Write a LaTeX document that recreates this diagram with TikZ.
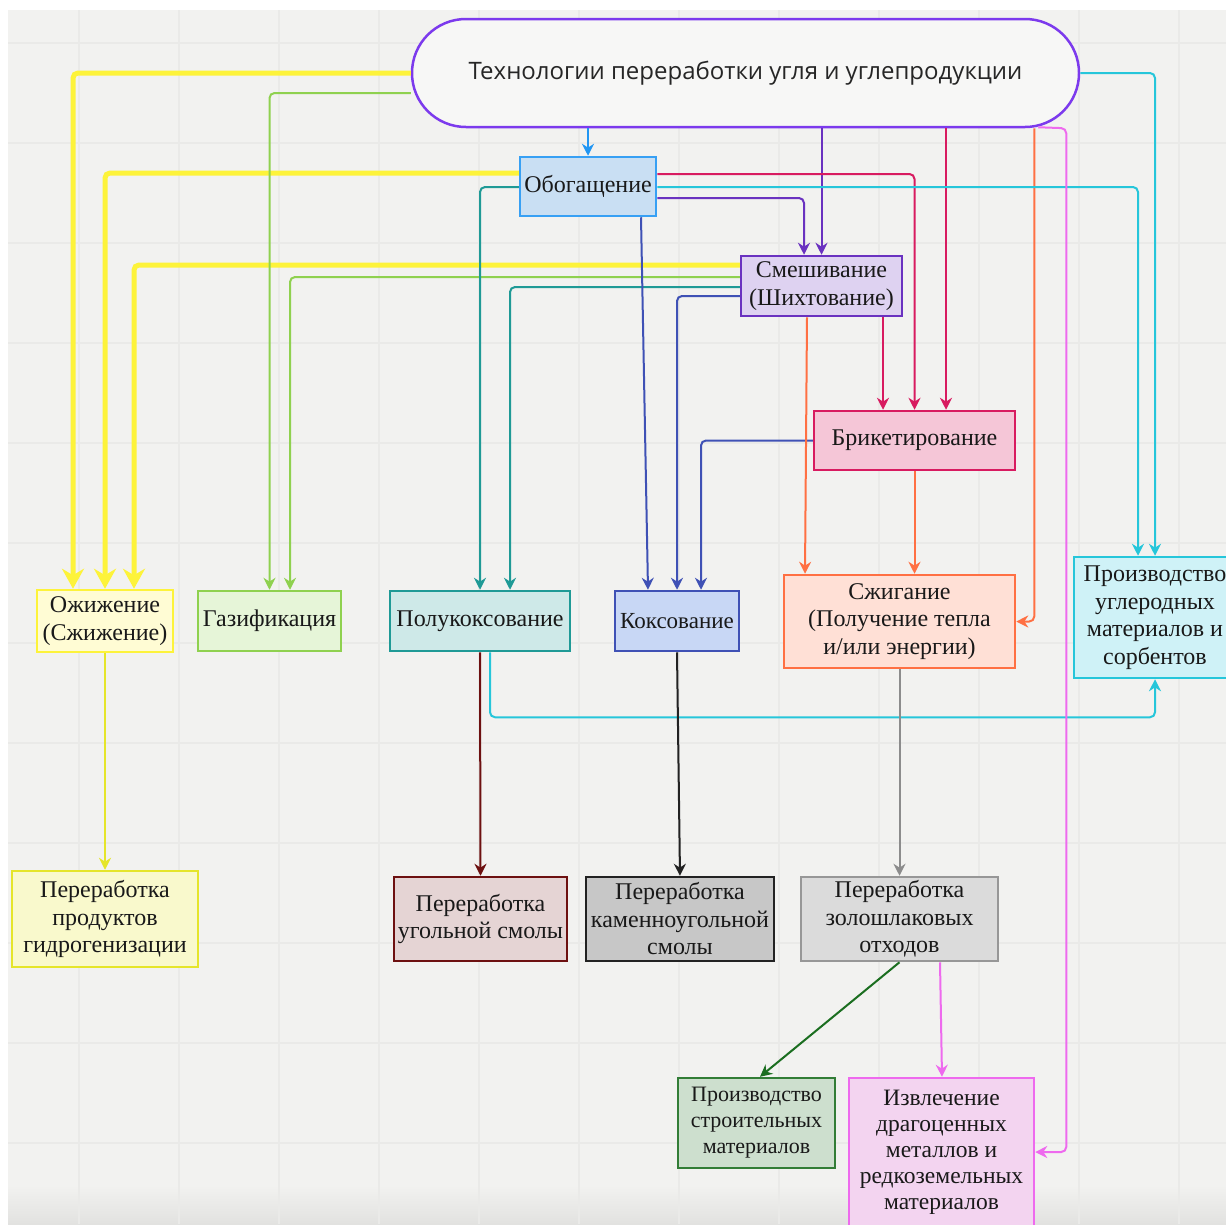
\documentclass[tikz,border=0pt]{standalone}
\usepackage{fontspec}
\setmainfont{Liberation Serif}
\newfontfamily\titlefont{Open Sans}
\usepackage{tikz}
\usetikzlibrary{positioning,arrows.meta,calc}
\definecolor{canvasbg}{HTML}{F2F2F0}
\definecolor{canvasdark}{HTML}{E2E2E0}
\definecolor{gridln}{HTML}{EAEAE8}
\definecolor{titleln}{HTML}{7C3AED}
\definecolor{fatyel}{HTML}{FDF33A}
\definecolor{lgreen}{HTML}{8FD14F}
\definecolor{tealln}{HTML}{1F9A96}
\definecolor{indigoln}{HTML}{3F51B5}
\definecolor{blueln}{HTML}{2196F3}
\definecolor{purpleln}{HTML}{6A32C0}
\definecolor{crimsonln}{HTML}{D81B60}
\definecolor{orangeln}{HTML}{FF7043}
\definecolor{cyanln}{HTML}{26C6DA}
\definecolor{violetln}{HTML}{EE6AEE}
\definecolor{greyln}{HTML}{8C8C8C}
\definecolor{darkredln}{HTML}{6D1010}
\definecolor{blackln}{HTML}{222222}
\definecolor{thinyel}{HTML}{E5E52A}
\definecolor{dgreenln}{HTML}{1B6E20}
\tikzset{
  titlebox/.style={draw=titleln, line width=2.5pt, fill=canvasbg!60!white, rounded corners=53.9pt,
                   minimum width=667pt, minimum height=108pt, text=black!85,
                   font=\titlefont\fontsize{24}{28}\selectfont},
  stage/.style={draw, line width=2.5pt, align=center, inner sep=2pt, text=black!90,
                font=\fontsize{24}{27.5}\selectfont},
  link/.style={-{Stealth[length=12pt,width=12pt]}, line width=2pt, rounded corners=5pt},
  fatlink/.style={link, line width=5pt, fatyel, -{Stealth[length=20pt,width=22pt]}}
}

\begin{document}
\begin{tikzpicture}[x=1pt,y=-1pt]
        \clip (0,0) rectangle (1226,1224);
        % canvas and grid
        \fill[white] (0,0) rectangle (1226,1224);
        \fill[canvasbg] (8,10) rectangle (1226,1224);
        \shade[top color=canvasbg, bottom color=canvasdark] (8,1185) rectangle (1226,1224);
        \begin{scope}[shift={(79,43)}]
          \draw[gridln, line width=2pt, step=100pt] (-71,-33) grid (1147,1181);
        \end{scope}

        % nodes
        \node[titlebox] (title) at (745.5,73) {Технологии переработки угля и углепродукции};
        \node[stage, fill={rgb,255:red,201;green,223;blue,243}, draw=blueln!90, minimum width=136pt, minimum height=59pt] (obog) at (588,186.5) {Обогащение};
        \node[stage, fill=purpleln!22, draw=purpleln, minimum width=161pt, minimum height=60pt] (smesh) at (821.5,286) {Смешивание\\(Шихтование)};
        \node[stage, fill=crimsonln!25, draw=crimsonln, minimum width=201pt, minimum height=59pt] (brik) at (914.5,440.5) {Брикетирование};
        \node[stage, fill=fatyel!22, draw=fatyel, minimum width=136pt, minimum height=62pt] (ozhi) at (105,621) {Ожижение\\(Сжижение)};
        \node[stage, fill=lgreen!22, draw=lgreen, minimum width=143pt, minimum height=60pt] (gaz) at (269.5,621) {Газификация};
        \node[stage, fill=tealln!22, draw=tealln, minimum width=180pt, minimum height=60pt] (polu) at (480,621) {Полукоксование};
        \node[stage, fill={rgb,255:red,200;green,215;blue,245}, draw=indigoln, minimum width=124pt, minimum height=60pt, font=\fontsize{23}{27}\selectfont] (koks) at (677,621) {Коксование};
        \node[stage, fill=orangeln!22, draw=orangeln, minimum width=231pt, minimum height=93pt] (szhig) at (899.5,621.5) {Сжигание\\(Получение тепла\\и/или энергии)};
        \node[stage, fill=cyanln!22, draw=cyanln, minimum width=162pt, minimum height=121pt] (uglerod) at (1155,617.5) {Производство\\углеродных\\материалов и\\сорбентов};
        \node[stage, fill=thinyel!24, draw=thinyel, minimum width=186pt, minimum height=96pt] (gidro) at (105,919) {Переработка\\продуктов\\гидрогенизации};
        \node[stage, fill=darkredln!18, draw=darkredln, minimum width=173pt, minimum height=84pt] (smola) at (480.5,919) {Переработка\\угольной смолы};
        \node[stage, fill=black!22, draw=blackln, minimum width=188pt, minimum height=84pt] (kamen) at (680,919) {Переработка\\каменноугольной\\смолы};
        \node[stage, fill=black!14, draw=greyln!90, minimum width=197pt, minimum height=84pt] (zolo) at (899.5,919) {Переработка\\золошлаковых\\отходов};
        \node[stage, fill=dgreenln!22, draw=dgreenln!90, minimum width=157pt, minimum height=90pt, font=\fontsize{22}{26}\selectfont] (stroi) at (756.5,1123) {Производство\\строительных\\материалов};
        \node[stage, fill={rgb,255:red,243;green,212;blue,240}, draw=violetln, minimum width=185pt, minimum height=148pt, font=\fontsize{23.5}{26}\selectfont] (izvl) at (941.5,1152) {Извлечение\\драгоценных\\металлов и\\редкоземельных\\материалов};

        \coordinate (brkL) at ([xshift=-31.5pt]brik.north);
        \coordinate (brkR) at ([xshift=31.5pt]brik.north);
        \coordinate (orgturn) at ([xshift=18pt]szhig.east);
        \coordinate (vturn) at ([xshift=-14pt]title.south east);

        % connectors
        \draw[fatlink] (title.west) -| ([xshift=-32pt]ozhi.north);
        \draw[fatlink] ([yshift=13.5pt]obog.west) -| (ozhi.north);
        \draw[fatlink] ([yshift=21pt]smesh.west) -| ([xshift=29pt]ozhi.north);
        \draw[link, lgreen] ([yshift=-20pt]title.west) -| (gaz.north);
        \draw[link, lgreen] ([yshift=9pt]smesh.west) -| ([xshift=20.5pt]gaz.north);
        \draw[link, tealln] ([yshift=-0.5pt]obog.west) -| (polu.north);
        \draw[link, tealln] ([yshift=-1pt]smesh.west) -| ([xshift=30pt]polu.north);
        \draw[link, indigoln] ([xshift=53pt]obog.south) -- ([xshift=-29pt]koks.north);
        \draw[link, indigoln] ([yshift=-10pt]smesh.west) -| (koks.north);
        \draw[link, indigoln] (brik.west) -| ([xshift=24pt]koks.north);
        \draw[link, blueln] (obog.north |- title.south) -- (obog.north);
        \draw[link, purpleln] (smesh.north |- title.south) -- (smesh.north);
        \draw[link, purpleln] ([yshift=-11.5pt]obog.east) -| ([xshift=-17.5pt]smesh.north);
        \draw[link, crimsonln] ([yshift=12.5pt]obog.east) -| (brik.north);
        \draw[link, crimsonln] (brkR |- title.south) -- (brkR);
        \draw[link, crimsonln] (brkL |- smesh.south) -- (brkL);
        \draw[link, orangeln] ([xshift=-14.5pt]smesh.south) -- ([xshift=-94.5pt]szhig.north);
        \draw[link, orangeln] (brik.south) -- (brik.south |- szhig.north);
        \draw[link, orangeln] (orgturn |- title.south) |- (szhig.east);
        \draw[link, cyanln] (title.east) -| (uglerod.north);
        \draw[link, cyanln] ([yshift=-0.5pt]obog.east) -| ([xshift=-17pt]uglerod.north);
        \draw[link, cyanln] ([xshift=10pt]polu.south) -- ++(0,65) -| (uglerod.south);
        \draw[link, violetln] ([xshift=-42pt,yshift=1pt]title.south east) -- (vturn) |- (izvl.east);
        \draw[link, thinyel] (ozhi.south) -- (gidro.north);
        \draw[link, darkredln] (polu.south) -- (smola.north);
        \draw[link, blackln] (koks.south) -- (kamen.north);
        \draw[link, greyln] (szhig.south) -- (zolo.north);
        \draw[link, dgreenln] (zolo.south) -- ([xshift=3.5pt]stroi.north);
        \draw[link, violetln] ([xshift=40.5pt]zolo.south) -- ([xshift=0.5pt]izvl.north);
\end{tikzpicture}
\end{document}
